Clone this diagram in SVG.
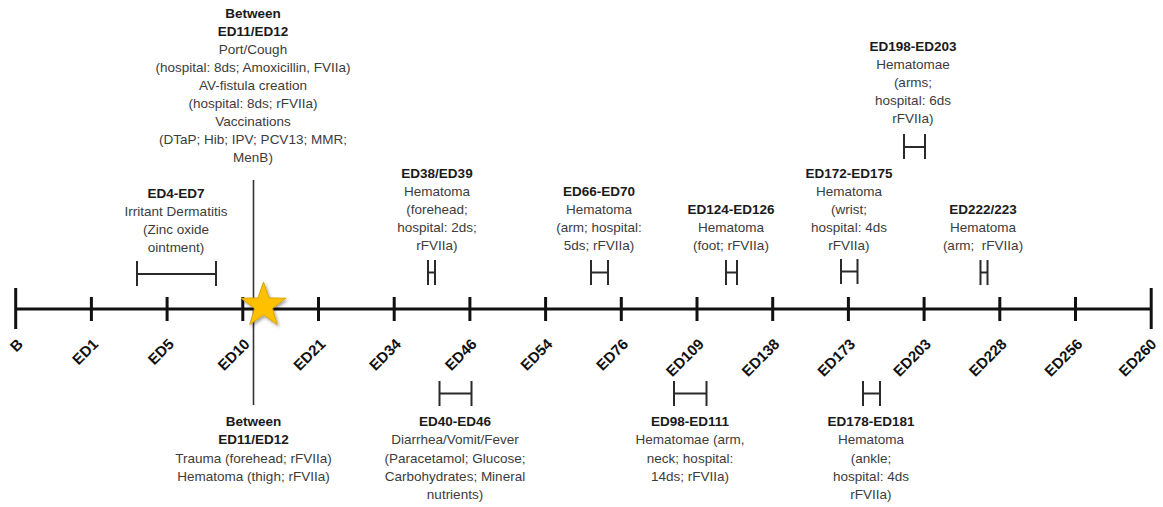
<svg xmlns="http://www.w3.org/2000/svg" width="1163" height="507" viewBox="0 0 1163 507">
<style>
  .t { font-family: "Liberation Sans", Arial, sans-serif; font-size: 13.5px; fill: #3c3c3c; text-anchor: middle; }
  .b { font-weight: bold; fill: #1a1a1a; }
  .ax { font-family: "Liberation Sans", Arial, sans-serif; font-size: 15px; font-weight: bold; fill: #111; text-anchor: end; }
  .axis { stroke: #111; stroke-width: 3; fill: none; }
  .tick { stroke: #111; stroke-width: 3; fill: none; }
  .br { stroke: #2a2a2a; stroke-width: 2; fill: none; }
  .vl { stroke: #333; stroke-width: 1.6; fill: none; }
</style>
<defs>
  <filter id="sh" x="-30%" y="-30%" width="160%" height="160%">
    <feDropShadow dx="1.5" dy="2" stdDeviation="1.5" flood-color="#000" flood-opacity="0.35"/>
  </filter>
</defs>
<rect width="1163" height="507" fill="#fff"/>

<g id="connectors">
  <line class="vl" x1="253.5" y1="180" x2="253.5" y2="405"/>
  <line class="axis" x1="15.7" y1="309" x2="1151.2" y2="309"/>
  <line class="tick" x1="15.7" y1="288" x2="15.7" y2="329"/>
  <line class="tick" x1="91.4" y1="297" x2="91.4" y2="321"/>
  <line class="tick" x1="167.1" y1="297" x2="167.1" y2="321"/>
  <line class="tick" x1="242.8" y1="297" x2="242.8" y2="321"/>
  <line class="tick" x1="318.5" y1="297" x2="318.5" y2="321"/>
  <line class="tick" x1="394.2" y1="297" x2="394.2" y2="321"/>
  <line class="tick" x1="469.9" y1="297" x2="469.9" y2="321"/>
  <line class="tick" x1="545.6" y1="297" x2="545.6" y2="321"/>
  <line class="tick" x1="621.3" y1="297" x2="621.3" y2="321"/>
  <line class="tick" x1="697.0" y1="297" x2="697.0" y2="321"/>
  <line class="tick" x1="772.7" y1="297" x2="772.7" y2="321"/>
  <line class="tick" x1="848.4" y1="297" x2="848.4" y2="321"/>
  <line class="tick" x1="924.1" y1="297" x2="924.1" y2="321"/>
  <line class="tick" x1="999.8" y1="297" x2="999.8" y2="321"/>
  <line class="tick" x1="1075.5" y1="297" x2="1075.5" y2="321"/>
  <line class="tick" x1="1151.2" y1="288" x2="1151.2" y2="329"/>
  <path class="br" d="M137 261V286M216 261V286M137 274H216"/>
  <path class="br" d="M428 260V285M435 260V285M428 272.5H435"/>
  <path class="br" d="M591 260V285M608 260V285M591 272.5H608"/>
  <path class="br" d="M726 260V285M737 260V285M726 272.5H737"/>
  <path class="br" d="M841 259V284M857.5 259V284M841 271.5H857.5"/>
  <path class="br" d="M904 134V159M925 134V159M904 147H925"/>
  <path class="br" d="M980.5 260V285M987.5 260V285M980.5 272.5H987.5"/>
  <path class="br" d="M439.5 381V406M471.5 381V406M439.5 393.5H471.5"/>
  <path class="br" d="M674 381V406M706.5 381V406M674 393.5H706.5"/>
  <path class="br" d="M863 381V406M880 381V406M863 393.5H880"/>
</g>

<g id="star">
  <polygon filter="url(#sh)" fill="#FFC000" stroke="#D9A300" stroke-width="1" points="263.5,282 269.03,297.9 285.85,298.24 272.44,308.4 277.31,324.51 263.5,314.9 249.69,324.51 254.56,308.4 241.15,298.24 257.97,297.9"/>
</g>

<g id="axis-labels">
  <text class="ax" x="24" y="345" transform="rotate(-45 24 345)">B</text>
  <text class="ax" x="99.2" y="345" transform="rotate(-45 99.2 345)">ED1</text>
  <text class="ax" x="174.9" y="345" transform="rotate(-45 174.9 345)">ED5</text>
  <text class="ax" x="250.6" y="345" transform="rotate(-45 250.6 345)">ED10</text>
  <text class="ax" x="326.3" y="345" transform="rotate(-45 326.3 345)">ED21</text>
  <text class="ax" x="402" y="345" transform="rotate(-45 402 345)">ED34</text>
  <text class="ax" x="477.7" y="345" transform="rotate(-45 477.7 345)">ED46</text>
  <text class="ax" x="553.4" y="345" transform="rotate(-45 553.4 345)">ED54</text>
  <text class="ax" x="629.1" y="345" transform="rotate(-45 629.1 345)">ED76</text>
  <text class="ax" x="704.8" y="345" transform="rotate(-45 704.8 345)">ED109</text>
  <text class="ax" x="780.5" y="345" transform="rotate(-45 780.5 345)">ED138</text>
  <text class="ax" x="856.2" y="345" transform="rotate(-45 856.2 345)">ED173</text>
  <text class="ax" x="931.9" y="345" transform="rotate(-45 931.9 345)">ED203</text>
  <text class="ax" x="1007.6" y="345" transform="rotate(-45 1007.6 345)">ED228</text>
  <text class="ax" x="1083.3" y="345" transform="rotate(-45 1083.3 345)">ED256</text>
  <text class="ax" x="1157.5" y="345" transform="rotate(-45 1157.5 345)">ED260</text>
</g>

<g id="ev-top-ed11">
  <text class="t b" x="253" y="18">Between</text>
  <text class="t b" x="253" y="36">ED11/ED12</text>
  <text class="t" x="253" y="54">Port/Cough</text>
  <text class="t" x="253" y="72">(hospital: 8ds; Amoxicillin, FVIIa)</text>
  <text class="t" x="253" y="90">AV-fistula creation</text>
  <text class="t" x="253" y="108">(hospital: 8ds; rFVIIa)</text>
  <text class="t" x="253" y="126">Vaccinations</text>
  <text class="t" x="253" y="144">(DTaP; Hib; IPV; PCV13; MMR;</text>
  <text class="t" x="253" y="162">MenB)</text>
</g>

<g id="ev-ed4-ed7">
  <text class="t b" x="176" y="197.5">ED4-ED7</text>
  <text class="t" x="176" y="215.5">Irritant Dermatitis</text>
  <text class="t" x="176" y="234">(Zinc oxide</text>
  <text class="t" x="176" y="252">ointment)</text>
</g>

<g id="ev-ed38">
  <text class="t b" x="437" y="177.5">ED38/ED39</text>
  <text class="t" x="437" y="195.5">Hematoma</text>
  <text class="t" x="437" y="213.5">(forehead;</text>
  <text class="t" x="437" y="231.5">hospital: 2ds;</text>
  <text class="t" x="437" y="249.5">rFVIIa)</text>
</g>

<g id="ev-ed66">
  <text class="t b" x="599" y="195.5">ED66-ED70</text>
  <text class="t" x="599" y="213.5">Hematoma</text>
  <text class="t" x="599" y="231.5">(arm; hospital:</text>
  <text class="t" x="599" y="249.5">5ds; rFVIIa)</text>
</g>

<g id="ev-ed124">
  <text class="t b" x="731" y="213.5">ED124-ED126</text>
  <text class="t" x="731" y="231.5">Hematoma</text>
  <text class="t" x="731" y="249.5">(foot; rFVIIa)</text>
</g>

<g id="ev-ed172">
  <text class="t b" x="849" y="177.5">ED172-ED175</text>
  <text class="t" x="849" y="195.5">Hematoma</text>
  <text class="t" x="849" y="213.5">(wrist;</text>
  <text class="t" x="849" y="231.5">hospital: 4ds</text>
  <text class="t" x="849" y="249.5">rFVIIa)</text>
</g>

<g id="ev-ed198">
  <text class="t b" x="913" y="50.5">ED198-ED203</text>
  <text class="t" x="913" y="68.5">Hematomae</text>
  <text class="t" x="913" y="86.5">(arms;</text>
  <text class="t" x="913" y="104.5">hospital: 6ds</text>
  <text class="t" x="913" y="122.5">rFVIIa)</text>
</g>

<g id="ev-ed222">
  <text class="t b" x="983" y="213.5">ED222/223</text>
  <text class="t" x="983" y="231.5">Hematoma</text>
  <text class="t" x="983" y="249.5">(arm;&#160; rFVIIa)</text>
</g>

<g id="ev-bottom-ed11">
  <text class="t b" x="253.5" y="425.5">Between</text>
  <text class="t b" x="253.5" y="444">ED11/ED12</text>
  <text class="t" x="253.5" y="462.5">Trauma (forehead; rFVIIa)</text>
  <text class="t" x="253.5" y="481">Hematoma (thigh; rFVIIa)</text>
</g>

<g id="ev-ed40">
  <text class="t b" x="455" y="425.5">ED40-ED46</text>
  <text class="t" x="455" y="444">Diarrhea/Vomit/Fever</text>
  <text class="t" x="455" y="462.5">(Paracetamol; Glucose;</text>
  <text class="t" x="455" y="481">Carbohydrates; Mineral</text>
  <text class="t" x="455" y="499">nutrients)</text>
</g>

<g id="ev-ed98">
  <text class="t b" x="690" y="425.5">ED98-ED111</text>
  <text class="t" x="690" y="444">Hematomae (arm,</text>
  <text class="t" x="690" y="462.5">neck; hospital:</text>
  <text class="t" x="690" y="481">14ds; rFVIIa)</text>
</g>

<g id="ev-ed178">
  <text class="t b" x="871" y="425.5">ED178-ED181</text>
  <text class="t" x="871" y="444">Hematoma</text>
  <text class="t" x="871" y="462.5">(ankle;</text>
  <text class="t" x="871" y="481">hospital: 4ds</text>
  <text class="t" x="871" y="499">rFVIIa)</text>
</g>
</svg>
